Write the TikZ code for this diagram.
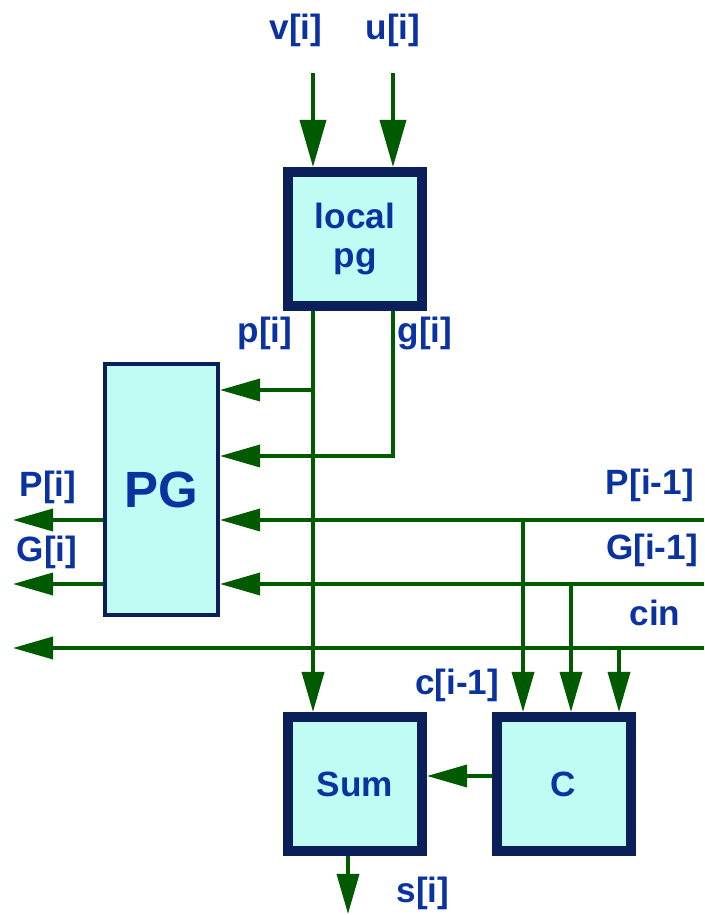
\documentclass[tikz,border=0pt]{standalone}
\usepackage{fontspec}
\setmainfont{Liberation Sans}
\usetikzlibrary{arrows.meta,calc}
\definecolor{wire}{HTML}{005A00}
\definecolor{ink}{HTML}{0A32A0}
\definecolor{frame}{HTML}{0B1F5A}
\definecolor{cell}{HTML}{C0FCF4}

\begin{document}
\begin{tikzpicture}[
  blk/.style={draw=frame,fill=cell,line width=0.2cm,minimum width=2.68cm,minimum height=2.68cm,
    font=\bfseries\fontsize{20}{22}\selectfont,text=ink,align=center},
  sig/.style={wire,line width=2pt,-{Triangle[length=0.8cm,width=0.44cm]}},
  bigsig/.style={sig,-{Triangle[length=0.94cm,width=0.52cm]}},
  lbl/.style={font=\bfseries\fontsize{20}{22}\selectfont,text=ink}
]
  \useasboundingbox (0,0) rectangle (14.08,18.3);

  % Blocks
  \node[blk] (local) at (7.1,13.52) {local\\pg};
  \node[blk] (sum) at (7.1,2.62) {Sum};
  \node[blk] (carry) at (11.27,2.62) {C};
  \node[blk,line width=0.08cm,minimum width=2.26cm,minimum height=5.02cm,
    font=\bfseries\fontsize{29}{32}\selectfont] (pg) at (3.23,8.51) {PG};

  % Free ends
  \coordinate (vin) at (6.26,16.84);
  \coordinate (uin) at (7.86,16.84);
  \coordinate (gbend) at (7.86,9.18);
  \coordinate (ptap) at (6.22,10.5);
  \coordinate (Pin) at (14.08,7.9);
  \coordinate (Gin) at (14.08,6.62);
  \coordinate (cin) at (14.08,5.34);
  \coordinate (Pout) at (0.26,7.9);
  \coordinate (Gout) at (0.26,6.62);
  \coordinate (cout) at (0.26,5.34);
  \coordinate (dP) at (10.46,7.9);
  \coordinate (dG) at (11.42,6.62);
  \coordinate (dc) at (12.38,5.34);
  \coordinate (sout) at (6.96,0.02);

  % Inputs to local pg
  \draw[bigsig] (vin) -- (vin |- local.north);
  \draw[bigsig] (uin) -- (uin |- local.north);

  % p and g
  \draw[sig] (vin |- local.south) -- (vin |- sum.north);
  \draw[sig] (uin |- local.south) -- (gbend) -- (gbend -| pg.east);
  \draw[sig] (ptap) -- (ptap -| pg.east);

  % Group signals
  \draw[sig] (Pin) -- (Pin -| pg.east);
  \draw[sig] (Gin) -- (Gin -| pg.east);
  \draw[sig] (Pin -| pg.west) -- (Pout);
  \draw[sig] (Gin -| pg.west) -- (Gout);
  \draw[sig] (cin) -- (cout);

  % Carry logic
  \foreach \tap in {dP,dG,dc}
    \draw[sig] (\tap) -- (\tap |- carry.north);
  \draw[sig] ([yshift=0.16cm]carry.west) -- ([yshift=0.16cm]sum.east);
  \draw[sig] (sout |- sum.south) -- (sout);

  % Labels
  \node[lbl] (vlbl) at (5.92,17.7) {v[i]};
  \node[lbl] (ulbl) at (7.86,17.7) {u[i]};
  \node[lbl] (plbl) at (5.3,11.64) {p[i]};
  \node[lbl] (glbl) at (8.5,11.64) {g[i]};
  \node[lbl] (Pilbl) at (0.96,8.56) {P[i]};
  \node[lbl] (Gilbl) at (0.94,7.26) {G[i]};
  \node[lbl,anchor=east] (Pplbl) at (14.0,8.6) {P[i-1]};
  \node[lbl,anchor=east] (Gplbl) at (14.08,7.3) {G[i-1]};
  \node[lbl] (cinlbl) at (13.1,6.04) {cin};
  \node[lbl] (clbl) at (9.14,4.6) {c[i-1]};
  \node[lbl] (slbl) at (8.46,0.44) {s[i]};
\end{tikzpicture}
\end{document}
